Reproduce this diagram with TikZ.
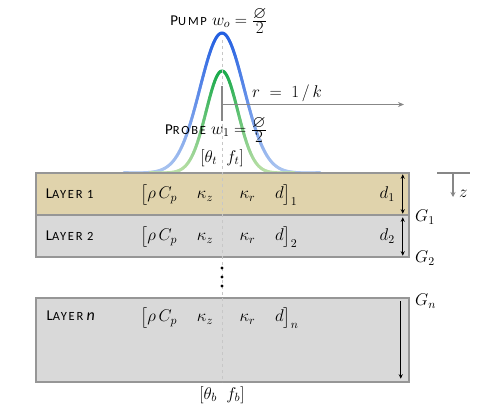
\documentclass[tikz,border=0pt]{standalone}
\usepackage{fix-cm}
\usepackage{amsmath}
\usepackage{amssymb}
\usepackage{fontspec}
\usepackage{tikz}
\usetikzlibrary{positioning}
\usetikzlibrary{arrows.meta}
\newfontfamily\capfont[LetterSpace=14]{Carlito}
\definecolor{pumpdark}{RGB}{35,95,225}
\definecolor{pumplight}{RGB}{172,198,240}
\definecolor{probedark}{RGB}{25,170,75}
\definecolor{probelight}{RGB}{188,224,168}
\definecolor{tanfill}{RGB}{224,211,172}
\definecolor{greyfill}{RGB}{217,217,217}
\definecolor{edgegrey}{RGB}{150,150,150}
\definecolor{axisgrey}{RGB}{135,135,135}
\newcommand{\fakesc}[2]{{\capfont\fontsize{15}{17}\selectfont #1\fontsize{12.5}{14}\selectfont #2}}
\newcommand{\halfdiam}{\frac{\textstyle\varnothing}{\textstyle 2}}

\begin{document}
\begin{tikzpicture}[
                x=1pt, y=-1pt,
                layer/.style = {
                    draw=edgegrey,
                    line width = 1.5pt,
                    fill=#1,
                    minimum width = 373pt,
                    inner sep = 0pt
                },
                layer/.default = greyfill,
                mathtext/.style = {
                    font=\fontsize{17}{19}\selectfont,
                    inner sep = 1pt
                },
                dimarrow/.style = {
                    line width = 1.2pt,
                    {Stealth[length=4.5pt,width=4pt]}-{Stealth[length=4.5pt,width=4pt]}
                },
                axisline/.style = {
                    draw=axisgrey,
                    line width = 1.5pt
                }
            ]
            \useasboundingbox (0,0) rectangle (480,412);
            % 
            % beams
            \foreach \i in {-98,...,97} {
                \pgfmathsetmacro\ya{173-140*exp(-(\i*\i)/968)}
                \pgfmathsetmacro\yb{173-140*exp(-((\i+1)*(\i+1))/968)}
                \pgfmathsetmacro\pc{100*exp(-((\i+0.5)*(\i+0.5))/968)}
                \draw[line width = 3pt, line cap=round, pumpdark!\pc!pumplight] (222+\i,\ya) -- (223+\i,\yb);
            }
            \foreach \i in {-72,...,71} {
                \pgfmathsetmacro\ya{173-102*exp(-(\i*\i)/500)}
                \pgfmathsetmacro\yb{173-102*exp(-((\i+1)*(\i+1))/500)}
                \pgfmathsetmacro\pc{100*exp(-((\i+0.5)*(\i+0.5))/500)}
                \draw[line width = 3pt, line cap=round, probedark!\pc!probelight] (222+\i,\ya) -- (223+\i,\yb);
            }
            % 
            % layers
            \node[layer=tanfill, minimum height = 42pt] (L1) at (222.5,194) {};
            \node[layer, minimum height = 42pt] (L2) at (222.5,236) {};
            \node[layer, minimum height = 84pt] (Ln) at (222.5,340) {};
            % 
            \coordinate (ctop) at (222,40);
            \coordinate (cbot) at (222,382);
            \draw[dashed, line width = 1pt, black!22] (ctop) -- (cbot);
            % 
            \foreach \yy in {268,277,286} \fill (222,\yy) circle (1.6);
            % 
            % labels of the beams
            \node[mathtext] (pump) at (219,21) {\fakesc{P}{UMP} $w_o = \halfdiam$};
            \node[mathtext] (probe) at (216,130) {\fakesc{P}{ROBE} $w_1 = \halfdiam$};
            \node[mathtext] (top) at (222,158) {$[\theta_t\;\;f_t]$};
            \node[mathtext] (bot) at (222,395) {$[\theta_b\;\;f_b]$};
            % 
            \coordinate (rorig) at (222,104.5);
            \coordinate (rup) at (222,86);
            \coordinate (rdown) at (222,121);
            \coordinate (rend) at (404,104.5);
            \draw[axisline] (rup) -- (rdown);
            \draw[axisline, -{Stealth[length=6pt,width=5pt]}] (rorig) -- (rend);
            \node[mathtext] (rlab) at (287,93) {$r\;=\;1\,/\,k$};
            % 
            % layer texts
            \node[anchor=west] (n1) at ([xshift=7pt]L1.west) {\fakesc{L}{AYER 1}};
            \node[anchor=west] (n2) at ([xshift=7pt]L2.west) {\fakesc{L}{AYER 2}};
            \node[anchor=west] (nn) at (43,316) {\fakesc{L}{AYER} {\capfont\fontsize{16}{17}\selectfont\itshape n}};
            % 
            \node[mathtext, anchor=west] (p1) at (139,195) {$\bigl[\rho\,C_p\quad\,\kappa_z\quad\;\;\kappa_r\quad\,d\bigr]_1$};
            \node[mathtext, anchor=west] (p2) at (139,237) {$\bigl[\rho\,C_p\quad\,\kappa_z\quad\;\;\kappa_r\quad\,d\bigr]_2$};
            \node[mathtext, anchor=west] (pn) at (139,318) {$\bigl[\rho\,C_p\quad\,\kappa_z\quad\;\;\kappa_r\quad\,d\bigr]_n$};
            % 
            \node[mathtext, anchor=east] (d1) at (396,194) {$d_1$};
            \node[mathtext, anchor=east] (d2) at (396,236) {$d_2$};
            % 
            \draw[dimarrow] ([xshift=-7pt,yshift=-2pt]L1.north east) -- ([xshift=-7pt,yshift=2pt]L1.south east);
            \draw[dimarrow] ([xshift=-7pt,yshift=-3pt]L2.north east) -- ([xshift=-7pt,yshift=2pt]L2.south east);
            \draw[line width = 1.2pt, -{Stealth[length=4.5pt,width=4pt]}] ([xshift=-9pt,yshift=-4pt]Ln.north east) -- ([xshift=-9pt,yshift=4pt]Ln.south east);
            % 
            \node[mathtext, anchor=west] (g1) at (414,217) {$G_1$};
            \node[mathtext, anchor=west] (g2) at (414,258) {$G_2$};
            \node[mathtext, anchor=west] (gn) at (414,301) {$G_n$};
            % 
            % z axis
            \coordinate (zl) at (437,173);
            \coordinate (zr) at (470,173);
            \coordinate (zt) at (453,173);
            \coordinate (zb) at (453,197);
            \draw[axisline] (zl) -- (zr);
            \draw[axisline, -{Stealth[length=5pt,width=5pt]}] (zt) -- (zb);
            \node[mathtext, anchor=west] (zlab) at (458,194) {$z$};
            % 
        \end{tikzpicture}
\end{document}
